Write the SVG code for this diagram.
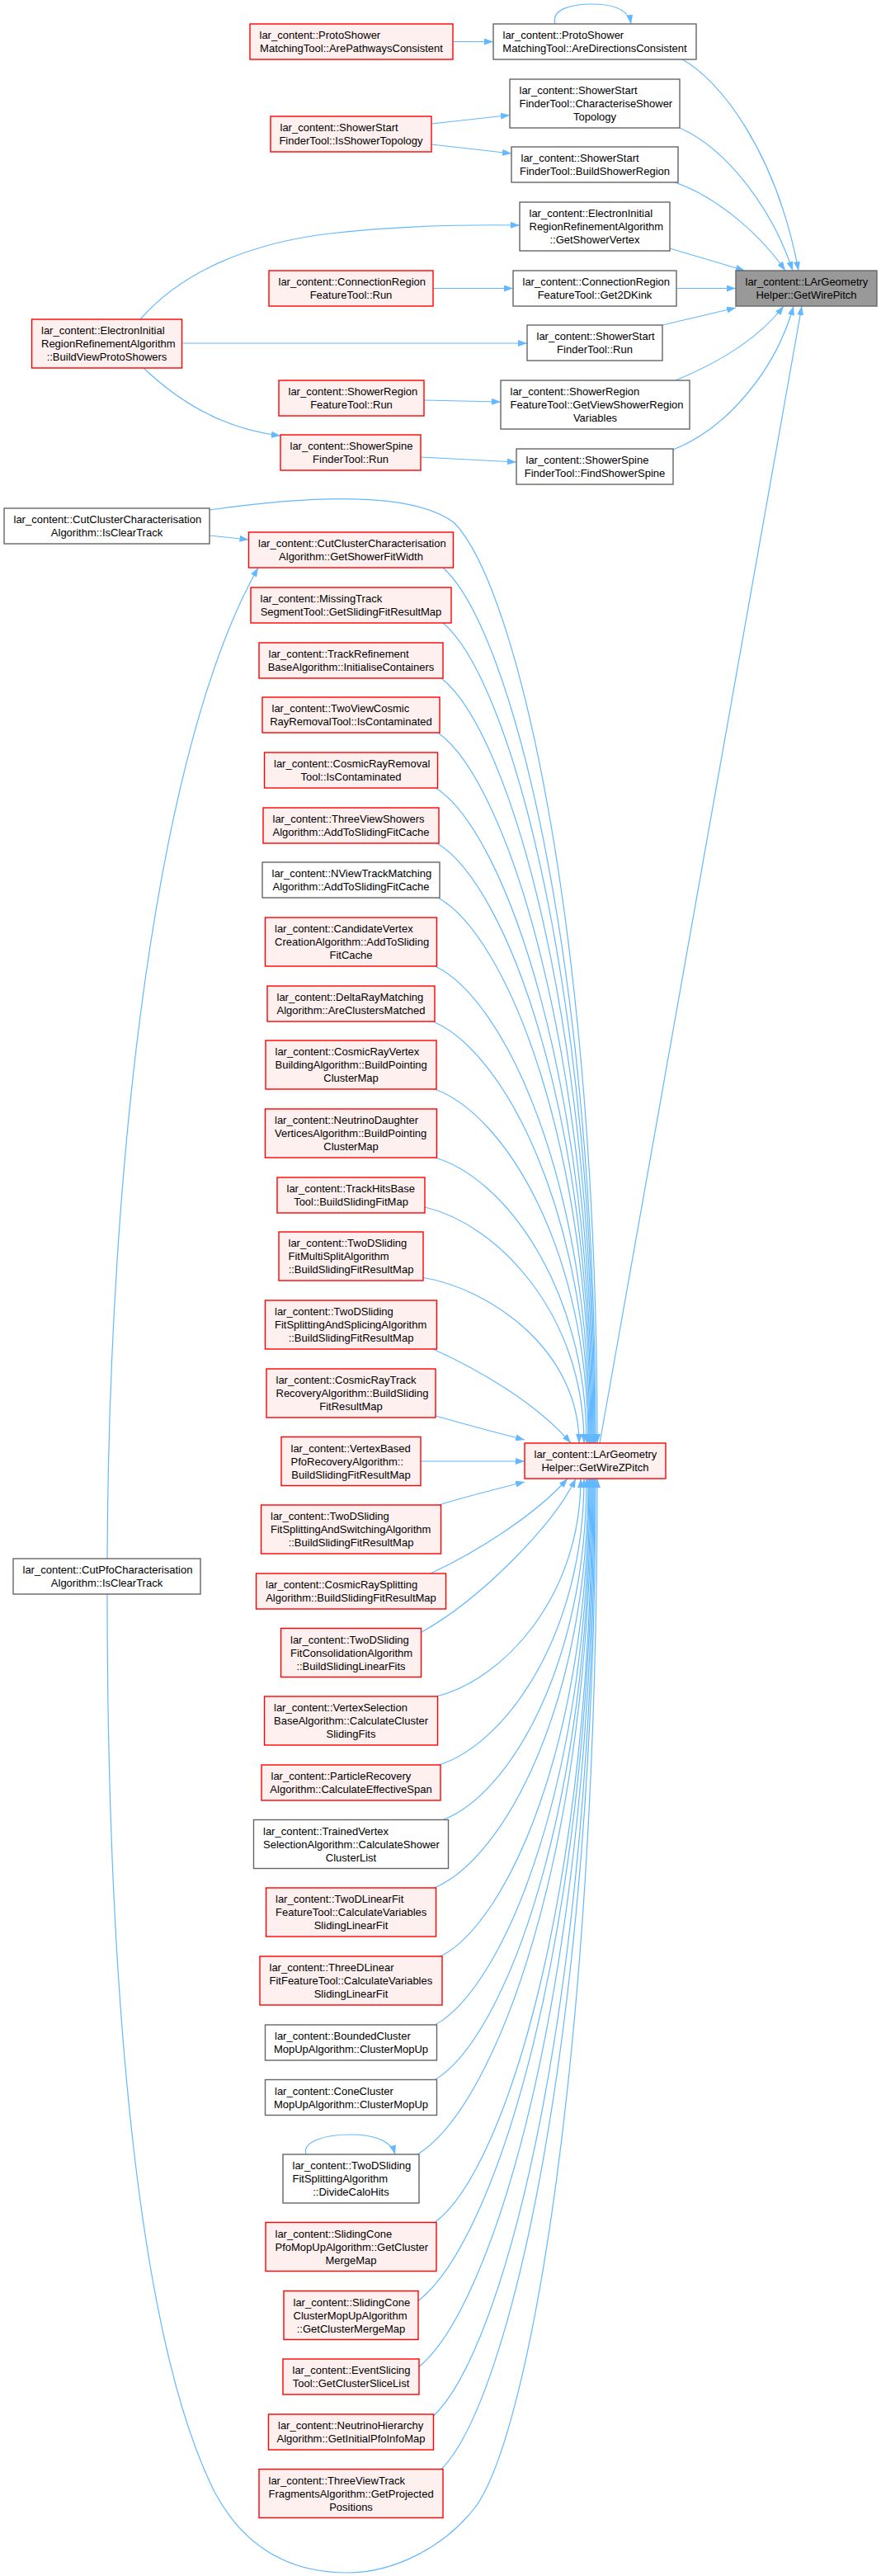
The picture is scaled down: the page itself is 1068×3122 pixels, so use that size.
<svg xmlns="http://www.w3.org/2000/svg" width="1068" height="3122" viewBox="0 0 1068 3122">
<defs>
<style>
.r{fill:#FFF0F0;stroke:#FF0000;stroke-width:1.4}
.w{fill:#FFFFFF;stroke:#666666;stroke-width:1.4}
.g{fill:#999999;stroke:#666666;stroke-width:1.4}
text{font-family:"Liberation Sans",Arial,Helvetica,sans-serif;font-size:13px;fill:#000000}
.m{text-anchor:middle}
.e{fill:none;stroke:#63B8FF;stroke-width:1.2;marker-end:url(#ah)}
</style>
<marker id="ah" viewBox="0 0 11 8" refX="11" refY="4" markerWidth="11" markerHeight="8" markerUnits="userSpaceOnUse" orient="auto">
<path d="M0,0 L11,4 L0,8 z" fill="#63B8FF"/>
</marker>
</defs>
<rect x="0" y="0" width="1068" height="3122" fill="#FFFFFF"/>
<g id="edges">
<path class="e" d="M549,50.5 L598,50.5"/>
<path class="e" d="M673,29 C668,12 690,5 718,5 C742,5 762,11 765,29"/>
<path class="e" d="M523,150 L618,139.5"/>
<path class="e" d="M523,175 L620,186"/>
<path class="e" d="M170,387 C220,330 300,295 400,283 C480,274 560,272 630,273"/>
<path class="e" d="M525,349.5 L622,349.5"/>
<path class="e" d="M220.5,416 L639,416"/>
<path class="e" d="M174,446 C215,485 270,520 340,528"/>
<path class="e" d="M514,485 L607,487"/>
<path class="e" d="M510,554 L626,560"/>
<path class="e" d="M827,72 C870,95 940,180 968,328"/>
<path class="e" d="M824,155 C880,180 935,250 961,328"/>
<path class="e" d="M818,221 C860,235 915,275 952,328"/>
<path class="e" d="M812,301 L903,328"/>
<path class="e" d="M820,349.5 L892,349.5"/>
<path class="e" d="M803,394 L892,373"/>
<path class="e" d="M819,461 C870,440 920,410 950,371"/>
<path class="e" d="M816,545 C880,520 940,450 962,371"/>
<path class="e" d="M727,1749 L972,371"/>
<path class="e" d="M254,649 L301.5,654"/>
<path class="e" d="M130,1889 C132,1400 190,905 313,688"/>
<path class="e" d="M254,618 C380,600 500,596 550,633 C628,711 724,1135 724,1749"/>
<path class="e" d="M130,1932 C130,2400 165,2830 260,3020 C300,3095 360,3118 421,3118 C480,3118 540,3085 575,3040 C642,2954 724,2479 724,1792"/>
<path class="e" d="M537,688 C620.3,762.3 722,1165.5 722,1749"/>
<path class="e" d="M537,755 C619.8,824.6 721,1202.3 721,1749"/>
<path class="e" d="M535,822 C618.3,886.9 720,1239.2 720,1749"/>
<path class="e" d="M531,888 C615.6,948.3 719,1275.5 719,1749"/>
<path class="e" d="M528.5,955 C613.8,1010.6 718,1312.3 718,1749"/>
<path class="e" d="M530,1022 C614.2,1072.9 717,1349.2 717,1749"/>
<path class="e" d="M531,1088 C614.3,1134.3 716,1385.5 716,1749"/>
<path class="e" d="M527.5,1171 C611.9,1211.5 715,1431.1 715,1749"/>
<path class="e" d="M525,1238 C610.1,1273.8 714,1468 714,1749"/>
<path class="e" d="M527,1320 C610.7,1350 713,1513 713,1749"/>
<path class="e" d="M527.5,1403 C610.1,1427.2 711,1558.7 711,1749"/>
<path class="e" d="M515,1463 C601.9,1483 708,1591.7 708,1749"/>
<path class="e" d="M511,1548 C597,1562 702,1638.5 702,1749"/>
<path class="e" d="M525,1635 C580,1660 650,1700 692,1749"/>
<path class="e" d="M528,1716 C560,1725 600,1736 636,1745"/>
<path class="e" d="M510,1771 L636,1771"/>
<path class="e" d="M532,1824 C560,1815 600,1805 636,1796"/>
<path class="e" d="M522,1907 C580,1880 650,1835 688,1792"/>
<path class="e" d="M511,1978 C580,1940 670,1850 698,1792"/>
<path class="e" d="M528.5,2056 C607.5,2037.5 704,1937.2 704,1792"/>
<path class="e" d="M532,2139 C611.2,2114.7 708,1982.9 708,1792"/>
<path class="e" d="M537,2205.5 C615.3,2176.6 711,2019.4 711,1792"/>
<path class="e" d="M526.5,2288 C610.4,2253.3 713,2064.8 713,1792"/>
<path class="e" d="M534,2371 C615,2330.5 714,2110.5 714,1792"/>
<path class="e" d="M527.5,2454 C611.9,2407.7 715,2156.1 715,1792"/>
<path class="e" d="M527.5,2520.5 C612.3,2469.5 716,2192.7 716,1792"/>
<path class="e" d="M506,2611 C601,2553.7 717,2242.5 717,1792"/>
<path class="e" d="M371,2611 C366,2595 395,2587 425,2587 C450,2587 474,2593 479,2611"/>
<path class="e" d="M527,2693.5 C613,2630.4 718,2287.8 718,1792"/>
<path class="e" d="M505,2790 C601.3,2720.1 719,2340.9 719,1792"/>
<path class="e" d="M506,2870 C602.3,2794.5 720,2384.9 720,1792"/>
<path class="e" d="M523.5,2930 C612.4,2850.3 721,2417.9 721,1792"/>
<path class="e" d="M535,2992.5 C619.2,2908.5 722,2452.3 722,1792"/>
</g>
<g id="n_ArePathwaysConsistent"><rect class="r" x="303" y="29" width="246" height="43"/><text x="314.5" y="47">lar_content::ProtoShower</text><text class="m" x="426" y="63">MatchingTool::ArePathwaysConsistent</text></g>
<g id="n_AreDirectionsConsistent"><rect class="w" x="598" y="29" width="246" height="43"/><text x="609.5" y="47">lar_content::ProtoShower</text><text class="m" x="721" y="63">MatchingTool::AreDirectionsConsistent</text></g>
<g id="n_CharacteriseShowerTopology"><rect class="w" x="618" y="96" width="206" height="59"/><text x="629.5" y="114">lar_content::ShowerStart</text><text x="629.5" y="130">FinderTool::CharacteriseShower</text><text class="m" x="721" y="146">Topology</text></g>
<g id="n_IsShowerTopology"><rect class="r" x="328" y="141" width="195" height="43"/><text x="339.5" y="159">lar_content::ShowerStart</text><text class="m" x="425.5" y="175">FinderTool::IsShowerTopology</text></g>
<g id="n_BuildShowerRegion"><rect class="w" x="620" y="178" width="202" height="43"/><text x="631.5" y="196">lar_content::ShowerStart</text><text class="m" x="721" y="212">FinderTool::BuildShowerRegion</text></g>
<g id="n_GetShowerVertex"><rect class="w" x="630" y="245" width="182" height="59"/><text x="641.5" y="263">lar_content::ElectronInitial</text><text x="641.5" y="279">RegionRefinementAlgorithm</text><text class="m" x="721" y="295">::GetShowerVertex</text></g>
<g id="n_ConnectionRegionRun"><rect class="r" x="326" y="328" width="199" height="43"/><text x="337.5" y="346">lar_content::ConnectionRegion</text><text class="m" x="425.5" y="362">FeatureTool::Run</text></g>
<g id="n_Get2DKink"><rect class="w" x="622" y="328" width="198" height="43"/><text x="633.5" y="346">lar_content::ConnectionRegion</text><text class="m" x="721" y="362">FeatureTool::Get2DKink</text></g>
<g id="n_BuildViewProtoShowers"><rect class="r" x="38.5" y="387" width="182" height="59"/><text x="50" y="405">lar_content::ElectronInitial</text><text x="50" y="421">RegionRefinementAlgorithm</text><text class="m" x="129.5" y="437">::BuildViewProtoShowers</text></g>
<g id="n_ShowerStartRun"><rect class="w" x="639" y="394" width="164" height="43"/><text x="650.5" y="412">lar_content::ShowerStart</text><text class="m" x="721" y="428">FinderTool::Run</text></g>
<g id="n_ShowerRegionRun"><rect class="r" x="338" y="461" width="176" height="43"/><text x="349.5" y="479">lar_content::ShowerRegion</text><text class="m" x="426" y="495">FeatureTool::Run</text></g>
<g id="n_GetViewShowerRegionVariables"><rect class="w" x="607" y="461" width="229" height="59"/><text x="618.5" y="479">lar_content::ShowerRegion</text><text x="618.5" y="495">FeatureTool::GetViewShowerRegion</text><text class="m" x="721.5" y="511">Variables</text></g>
<g id="n_ShowerSpineRun"><rect class="r" x="340" y="527" width="170" height="43"/><text x="351.5" y="545">lar_content::ShowerSpine</text><text class="m" x="425" y="561">FinderTool::Run</text></g>
<g id="n_FindShowerSpine"><rect class="w" x="626" y="544" width="190" height="43"/><text x="637.5" y="562">lar_content::ShowerSpine</text><text class="m" x="721" y="578">FinderTool::FindShowerSpine</text></g>
<g id="n_GetWirePitch"><rect class="g" x="892" y="328" width="171" height="43"/><text x="903.5" y="346">lar_content::LArGeometry</text><text class="m" x="977.5" y="362">Helper::GetWirePitch</text></g>
<g id="n_CutClusterIsClearTrack"><rect class="w" x="5" y="616" width="249" height="43"/><text x="16.5" y="634">lar_content::CutClusterCharacterisation</text><text class="m" x="129.5" y="650">Algorithm::IsClearTrack</text></g>
<g id="n_CutPfoIsClearTrack"><rect class="w" x="16" y="1889" width="227" height="43"/><text x="27.5" y="1907">lar_content::CutPfoCharacterisation</text><text class="m" x="129.5" y="1923">Algorithm::IsClearTrack</text></g>
<g id="n_GetWireZPitch"><rect class="r" x="636" y="1749" width="171" height="43"/><text x="647.5" y="1767">lar_content::LArGeometry</text><text class="m" x="721.5" y="1783">Helper::GetWireZPitch</text></g>
<g id="n_GetShowerFitWidth"><rect class="r" x="301.5" y="645" width="248" height="43"/><text x="313" y="663">lar_content::CutClusterCharacterisation</text><text class="m" x="425.5" y="679">Algorithm::GetShowerFitWidth</text></g>
<g id="n_MissingTrack"><rect class="r" x="304" y="712" width="243" height="43"/><text x="315.5" y="730">lar_content::MissingTrack</text><text class="m" x="425.5" y="746">SegmentTool::GetSlidingFitResultMap</text></g>
<g id="n_TrackRefinement"><rect class="r" x="314" y="779" width="223" height="43"/><text x="325.5" y="797">lar_content::TrackRefinement</text><text class="m" x="425.5" y="813">BaseAlgorithm::InitialiseContainers</text></g>
<g id="n_TwoViewCosmic"><rect class="r" x="318" y="845" width="215" height="43"/><text x="329.5" y="863">lar_content::TwoViewCosmic</text><text class="m" x="425.5" y="879">RayRemovalTool::IsContaminated</text></g>
<g id="n_CosmicRayRemoval"><rect class="r" x="320.5" y="912" width="210" height="43"/><text x="332" y="930">lar_content::CosmicRayRemoval</text><text class="m" x="425.5" y="946">Tool::IsContaminated</text></g>
<g id="n_ThreeViewShowers"><rect class="r" x="319" y="979" width="213" height="43"/><text x="330.5" y="997">lar_content::ThreeViewShowers</text><text class="m" x="425.5" y="1013">Algorithm::AddToSlidingFitCache</text></g>
<g id="n_NViewTrackMatching"><rect class="w" x="318" y="1045" width="215" height="43"/><text x="329.5" y="1063">lar_content::NViewTrackMatching</text><text class="m" x="425.5" y="1079">Algorithm::AddToSlidingFitCache</text></g>
<g id="n_CandidateVertex"><rect class="r" x="321.5" y="1112" width="208" height="59"/><text x="333" y="1130">lar_content::CandidateVertex</text><text x="333" y="1146">CreationAlgorithm::AddToSliding</text><text class="m" x="425.5" y="1162">FitCache</text></g>
<g id="n_DeltaRayMatching"><rect class="r" x="324" y="1195" width="203" height="43"/><text x="335.5" y="1213">lar_content::DeltaRayMatching</text><text class="m" x="425.5" y="1229">Algorithm::AreClustersMatched</text></g>
<g id="n_CosmicRayVertex"><rect class="r" x="322" y="1261" width="207" height="59"/><text x="333.5" y="1279">lar_content::CosmicRayVertex</text><text x="333.5" y="1295">BuildingAlgorithm::BuildPointing</text><text class="m" x="425.5" y="1311">ClusterMap</text></g>
<g id="n_NeutrinoDaughter"><rect class="r" x="321.5" y="1344" width="208" height="59"/><text x="333" y="1362">lar_content::NeutrinoDaughter</text><text x="333" y="1378">VerticesAlgorithm::BuildPointing</text><text class="m" x="425.5" y="1394">ClusterMap</text></g>
<g id="n_TrackHitsBase"><rect class="r" x="336" y="1427" width="179" height="43"/><text x="347.5" y="1445">lar_content::TrackHitsBase</text><text class="m" x="425.5" y="1461">Tool::BuildSlidingFitMap</text></g>
<g id="n_MultiSplit"><rect class="r" x="338" y="1493" width="175" height="59"/><text x="349.5" y="1511">lar_content::TwoDSliding</text><text x="349.5" y="1527">FitMultiSplitAlgorithm</text><text class="m" x="425.5" y="1543">::BuildSlidingFitResultMap</text></g>
<g id="n_SplittingAndSplicing"><rect class="r" x="321.5" y="1576" width="208" height="59"/><text x="333" y="1594">lar_content::TwoDSliding</text><text x="333" y="1610">FitSplittingAndSplicingAlgorithm</text><text class="m" x="425.5" y="1626">::BuildSlidingFitResultMap</text></g>
<g id="n_CosmicRayTrack"><rect class="r" x="323" y="1659" width="205" height="59"/><text x="334.5" y="1677">lar_content::CosmicRayTrack</text><text x="334.5" y="1693">RecoveryAlgorithm::BuildSliding</text><text class="m" x="425.5" y="1709">FitResultMap</text></g>
<g id="n_VertexBased"><rect class="r" x="341" y="1741.5" width="169" height="59"/><text x="352.5" y="1759.5">lar_content::VertexBased</text><text x="352.5" y="1775.5">PfoRecoveryAlgorithm::</text><text class="m" x="425.5" y="1791.5">BuildSlidingFitResultMap</text></g>
<g id="n_SplittingAndSwitching"><rect class="r" x="316.5" y="1824" width="218" height="59"/><text x="328" y="1842">lar_content::TwoDSliding</text><text x="328" y="1858">FitSplittingAndSwitchingAlgorithm</text><text class="m" x="425.5" y="1874">::BuildSlidingFitResultMap</text></g>
<g id="n_CosmicRaySplitting"><rect class="r" x="310.5" y="1907" width="230" height="43"/><text x="322" y="1925">lar_content::CosmicRaySplitting</text><text class="m" x="425.5" y="1941">Algorithm::BuildSlidingFitResultMap</text></g>
<g id="n_Consolidation"><rect class="r" x="340.5" y="1973.5" width="170" height="59"/><text x="352" y="1991.5">lar_content::TwoDSliding</text><text x="352" y="2007.5">FitConsolidationAlgorithm</text><text class="m" x="425.5" y="2023.5">::BuildSlidingLinearFits</text></g>
<g id="n_VertexSelection"><rect class="r" x="320.5" y="2056" width="210" height="59"/><text x="332" y="2074">lar_content::VertexSelection</text><text x="332" y="2090">BaseAlgorithm::CalculateCluster</text><text class="m" x="425.5" y="2106">SlidingFits</text></g>
<g id="n_ParticleRecovery"><rect class="r" x="317" y="2139" width="217" height="43"/><text x="328.5" y="2157">lar_content::ParticleRecovery</text><text class="m" x="425.5" y="2173">Algorithm::CalculateEffectiveSpan</text></g>
<g id="n_TrainedVertex"><rect class="w" x="307.5" y="2205.5" width="236" height="59"/><text x="319" y="2223.5">lar_content::TrainedVertex</text><text x="319" y="2239.5">SelectionAlgorithm::CalculateShower</text><text class="m" x="425.5" y="2255.5">ClusterList</text></g>
<g id="n_TwoDLinearFit"><rect class="r" x="322.5" y="2288" width="206" height="59"/><text x="334" y="2306">lar_content::TwoDLinearFit</text><text x="334" y="2322">FeatureTool::CalculateVariables</text><text class="m" x="425.5" y="2338">SlidingLinearFit</text></g>
<g id="n_ThreeDLinear"><rect class="r" x="315" y="2371" width="221" height="59"/><text x="326.5" y="2389">lar_content::ThreeDLinear</text><text x="326.5" y="2405">FitFeatureTool::CalculateVariables</text><text class="m" x="425.5" y="2421">SlidingLinearFit</text></g>
<g id="n_BoundedCluster"><rect class="w" x="321.5" y="2454" width="208" height="43"/><text x="333" y="2472">lar_content::BoundedCluster</text><text class="m" x="425.5" y="2488">MopUpAlgorithm::ClusterMopUp</text></g>
<g id="n_ConeCluster"><rect class="w" x="321.5" y="2520.5" width="208" height="43"/><text x="333" y="2538.5">lar_content::ConeCluster</text><text class="m" x="425.5" y="2554.5">MopUpAlgorithm::ClusterMopUp</text></g>
<g id="n_DivideCaloHits"><rect class="w" x="343" y="2611" width="165" height="59"/><text x="354.5" y="2629">lar_content::TwoDSliding</text><text x="354.5" y="2645">FitSplittingAlgorithm</text><text class="m" x="425.5" y="2661">::DivideCaloHits</text></g>
<g id="n_SlidingConePfo"><rect class="r" x="322" y="2693.5" width="207" height="59"/><text x="333.5" y="2711.5">lar_content::SlidingCone</text><text x="333.5" y="2727.5">PfoMopUpAlgorithm::GetCluster</text><text class="m" x="425.5" y="2743.5">MergeMap</text></g>
<g id="n_SlidingConeCluster"><rect class="r" x="344" y="2776.5" width="163" height="59"/><text x="355.5" y="2794.5">lar_content::SlidingCone</text><text x="355.5" y="2810.5">ClusterMopUpAlgorithm</text><text class="m" x="425.5" y="2826.5">::GetClusterMergeMap</text></g>
<g id="n_EventSlicing"><rect class="r" x="343" y="2859" width="165" height="43"/><text x="354.5" y="2877">lar_content::EventSlicing</text><text class="m" x="425.5" y="2893">Tool::GetClusterSliceList</text></g>
<g id="n_NeutrinoHierarchy"><rect class="r" x="325.5" y="2926" width="200" height="43"/><text x="337" y="2944">lar_content::NeutrinoHierarchy</text><text class="m" x="425.5" y="2960">Algorithm::GetInitialPfoInfoMap</text></g>
<g id="n_ThreeViewTrack"><rect class="r" x="314" y="2992.5" width="223" height="59"/><text x="325.5" y="3010.5">lar_content::ThreeViewTrack</text><text x="325.5" y="3026.5">FragmentsAlgorithm::GetProjected</text><text class="m" x="425.5" y="3042.5">Positions</text></g>
</svg>
